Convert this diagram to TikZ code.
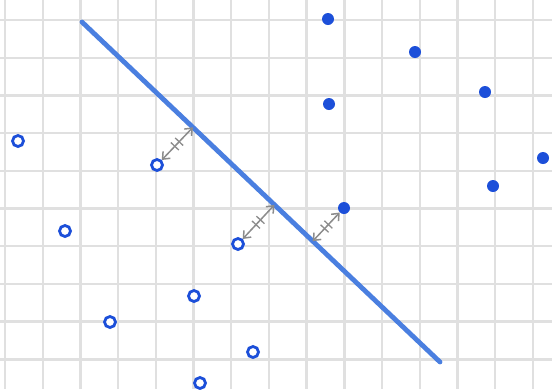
\documentclass[tikz,border=0pt]{standalone}
\usetikzlibrary{arrows.meta,decorations.markings}
\definecolor{gridc}{HTML}{E0E0E0}
\definecolor{lineblue}{HTML}{4A7FE0}
\definecolor{ptblue}{HTML}{1C4FD9}
\definecolor{arrgray}{HTML}{8C8C8C}
\begin{document}
\begin{tikzpicture}[x=1pt,y=-1pt,
  gridline/.style={gridc,line width=2.4pt},
  sepline/.style={lineblue,line width=4.8pt,line cap=round},
  negdot/.style={circle,draw=ptblue,line width=2.8pt,fill=white,minimum size=11pt,inner sep=0pt},
  posdot/.style={circle,fill=ptblue,minimum size=12pt,inner sep=0pt},
  margin/.style={arrgray,line width=1.5pt,
    {Straight Barb[length=6pt,width=10pt]}-{Straight Barb[length=6pt,width=10pt]},
    postaction={decorate},
    decoration={markings,
      mark=at position 0.42 with {\draw[arrgray,line width=1.3pt,-] (0,-5.5pt)--(0,5.5pt);},
      mark=at position 0.56 with {\draw[arrgray,line width=1.3pt,-] (0,-5.5pt)--(0,5.5pt);}}}]
\fill[white] (0,0) rectangle (552,389);
\useasboundingbox (0,0) rectangle (552,389);
% grid
\foreach \k in {0,...,14} {\draw[gridline] ({5+37.7*\k},0) -- ({5+37.7*\k},389);}
\foreach \k in {0,...,9} {\draw[gridline] (0,{20+37.7*\k}) -- (552,{20+37.7*\k});}
% separating line
\coordinate (la) at (82,22);
\coordinate (lb) at (440,362);
\draw[sepline] (la) -- (lb);
% feet of perpendiculars
\coordinate (f1) at (192.9,127.3);
\coordinate (f2) at (274.4,204.9);
\coordinate (f3) at (312.7,241.2);
% positive class (filled)
\node[posdot] (p1) at (328,19) {};
\node[posdot] (p2) at (415,52) {};
\node[posdot] (p3) at (329,104) {};
\node[posdot] (p4) at (485,92) {};
\node[posdot] (p5) at (543,158) {};
\node[posdot] (p6) at (493,186) {};
\node[posdot] (p7) at (344,208) {};
% negative class (open)
\node[negdot] (n1) at (18,141) {};
\node[negdot] (n2) at (157,165) {};
\node[negdot] (n3) at (65,231) {};
\node[negdot] (n4) at (238,244) {};
\node[negdot] (n5) at (194,296) {};
\node[negdot] (n6) at (110,322) {};
\node[negdot] (n7) at (253,352) {};
\node[negdot] (n8) at (200,383) {};
% margins
\draw[margin] (n2) -- (f1);
\draw[margin] (n4) -- (f2);
\draw[margin] (p7) -- (f3);
\end{tikzpicture}
\end{document}
